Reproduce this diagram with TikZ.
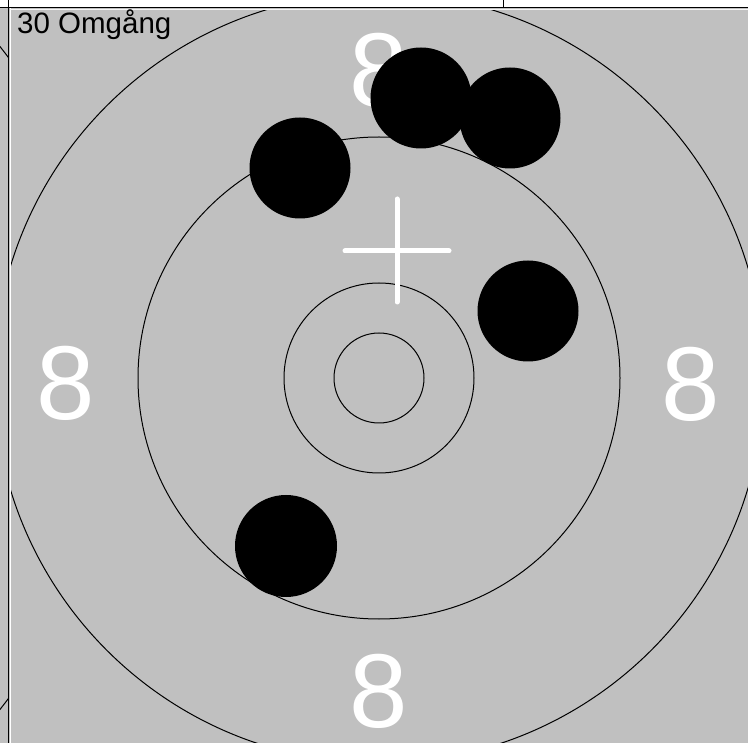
\documentclass[tikz,border=0pt]{standalone}
\usepackage{fontspec}
\setmainfont{Liberation Sans}
\definecolor{bggray}{RGB}{192,192,192}
\tikzset{
  ring/.style={draw=black, line width=1pt},
  shot/.style={fill=black},
  ringlabel/.style={text=white, inner sep=0pt, font=\fontsize{105}{105}\selectfont},
  cross/.style={draw=white, line width=5pt, line cap=round}
}
\begin{document}
\begin{tikzpicture}[x=1pt,y=-1pt]
\useasboundingbox (0,0) rectangle (748,743);
\fill[bggray] (0,0) rectangle (748,743);
\fill[white] (0,0) rectangle (748,7);
% left neighbouring panel arcs
\begin{scope}
  \clip (0,8) rectangle (8,743);
  \draw[ring] (-420,378) circle[radius=535pt];
\end{scope}
% main target
\coordinate (c) at (379,378);
\begin{scope}
  \clip (11,10) rectangle (748,743);
  \draw[ring] (c) circle[radius=385pt];
  \draw[ring] (c) circle[radius=241pt];
  \draw[ring] (c) circle[radius=95pt];
  \draw[ring] (c) circle[radius=45pt];
  \node[ringlabel] (l8top) at (379,70) {8};
  \node[ringlabel] (l8left) at (65.5,383.5) {8};
  \node[ringlabel] (l8right) at (691,384) {8};
  \node[ringlabel] (l8bottom) at (379,691) {8};
  % aim cross
  \coordinate (vt) at (397,199);
  \coordinate (vb) at (397,302);
  \coordinate (hl) at (345,251);
  \coordinate (hr) at (449,251);
  \draw[cross] (vt) -- (vb);
  \draw[cross] (hl) -- (hr);
  % shots
  \fill[shot] (510,118) circle[radius=50.5pt];
  \fill[shot] (421,98) circle[radius=50.5pt];
  \fill[shot] (300,168) circle[radius=50.5pt];
  \fill[shot] (528,311) circle[radius=50.5pt];
  \fill[shot] (286,546) circle[radius=51pt];
\end{scope}
% frame lines
\draw[white, line width=1.2pt] (10.5,8) -- (10.5,743);
\draw[white!85!bggray, line width=1pt] (10,9.5) -- (748,9.5);
\draw[black, line width=1.6pt] (0,7.5) -- (748,7.5);
\draw[black, line width=1.6pt] (8.5,0) -- (8.5,743);
\draw[black, line width=1.4pt] (503.5,0) -- (503.5,7.5);
\node[anchor=base west, inner sep=0pt, font=\fontsize{29.5}{29.5}\selectfont] (title) at (17,34) {30 Omgång};
\end{tikzpicture}
\end{document}
